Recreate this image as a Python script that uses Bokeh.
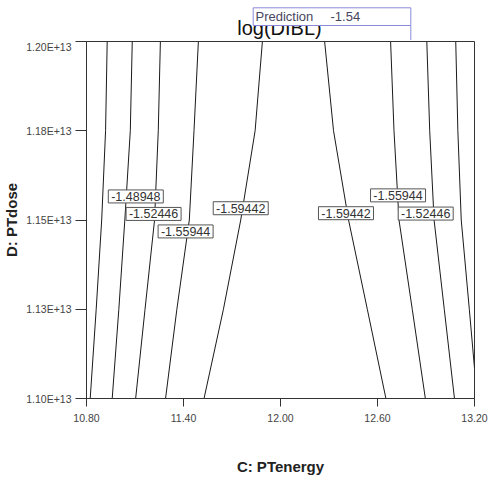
from bokeh.plotting import figure
from bokeh.layouts import column
from bokeh.models import Range1d, FixedTicker, ColumnDataSource
from bokeh.core.properties import value
from bokeh.embed import file_html
from bokeh.resources import INLINE

# ---------------- data ----------------
# D: PTdose levels (in units of 1E+13) at which each contour's C: PTenergy is read
dose_levels = [1.200, 1.175, 1.150, 1.125, 1.100]

# contour levels of log(DIBL)
contour_levels = [-1.45450, -1.48948, -1.52446, -1.55944, -1.59442,
                  -1.59442, -1.55944, -1.52446, -1.48948]

# PTenergy positions of each contour at the dose levels above
energy_a = [10.928, 10.918, 10.894, 10.860, 10.823]
energy_b = [11.083, 11.071, 11.037, 11.000, 10.959]
energy_c = [11.257, 11.244, 11.221, 11.162, 11.104]
energy_d = [11.492, 11.465, 11.436, 11.359, 11.289]
energy_e = [11.888, 11.843, 11.754, 11.647, 11.527]
energy_f = [12.273, 12.328, 12.421, 12.537, 12.652]
energy_g = [12.681, 12.702, 12.733, 12.815, 12.896]
energy_h = [12.905, 12.923, 12.950, 13.013, 13.076]
energy_i = [13.084, 13.097, 13.118, 13.168, 13.200]
dose_i = [1.200, 1.175, 1.150, 1.125, 1.1085]   # last contour leaves through the right edge

contour_energies = [energy_a, energy_b, energy_c, energy_d, energy_e,
                    energy_f, energy_g, energy_h, energy_i]
contour_doses = [dose_levels] * 8 + [dose_i]

# contour labels
label_text = ["-1.48948", "-1.52446", "-1.55944", "-1.59442",
              "-1.59442", "-1.55944", "-1.52446"]
label_energy = [11.105, 11.215, 11.413, 11.754, 12.405, 12.727, 12.898]
label_dose = [1.1566, 1.1517, 1.1468, 1.1533, 1.1519, 1.1569, 1.1518]

# axes
x_ticks = [10.8, 11.4, 12.0, 12.6, 13.2]
x_tick_labels = ["10.80", "11.40", "12.00", "12.60", "13.20"]
y_ticks = [1.100, 1.125, 1.150, 1.175, 1.200]
y_tick_labels = ["1.10E+13", "1.13E+13", "1.15E+13", "1.18E+13", "1.20E+13"]

title_text = "log(DIBL)"
prediction_name = "Prediction"
prediction_value = "-1.54"

FONT = "Liberation Sans"
LEFT, RIGHT, FW, FH = 81, 14, 388, 357

# ---------------- header (title + prediction box), coordinates in page pixels ----------------
head = figure(frame_width=FW, frame_height=40, output_backend="svg", toolbar_location=None,
              x_range=Range1d(89, 477), y_range=Range1d(41, 1),
              x_axis_location=None, y_axis_location=None,
              min_border_left=LEFT, min_border_right=RIGHT,
              min_border_top=0, min_border_bottom=0, outline_line_color=None)
head.grid.visible = False
head.text(x=[282], y=[28], text=[title_text], text_align="center",
          text_baseline="middle", text_font=value(FONT),
          text_font_size=value("20px"), text_color="#111111")
head.quad(left=[255.7], right=[413.3], top=[8.3], bottom=[26],
          fill_color="white", line_color="#8a8ada", line_width=1)
head.segment(x0=[413.3], y0=[26], x1=[413.3], y1=[41], line_color="#8a8ada", line_width=1)
head.text(x=[258], y=[17.2], text=[prediction_name], text_align="left",
          text_baseline="middle", text_font=value(FONT),
          text_font_size=value("13px"), text_color="#46465e")
head.text(x=[333], y=[17.2], text=[prediction_value], text_align="left",
          text_baseline="middle", text_font=value(FONT),
          text_font_size=value("13px"), text_color="#46465e")

# ---------------- main contour plot ----------------
p = figure(frame_width=FW, frame_height=FH, output_backend="svg", toolbar_location=None,
           x_range=Range1d(10.8, 13.2), y_range=Range1d(1.1, 1.2),
           min_border_left=LEFT, min_border_right=RIGHT, min_border_top=1,
           min_border_bottom=80, background_fill_color="white",
           border_fill_color="white")
p.grid.visible = False
p.outline_line_color = "#333333"
p.outline_line_width = 1

for xs, ys in zip(contour_energies, contour_doses):
    p.line(xs, ys, line_color="#1a1a1a", line_width=1)

lab_src = ColumnDataSource(dict(x=label_energy, y=label_dose, text=label_text))
p.rect(x="x", y="y", width=55, height=13, width_units="screen", height_units="screen",
       source=lab_src, fill_color="white", line_color="#555555", line_width=1)
p.text(x="x", y="y", text="text", source=lab_src, text_align="center",
       text_baseline="middle", text_font=value(FONT), text_font_size=value("12.5px"),
       text_color="#333333")

for ax, ticks, labels in ((p.xaxis[0], x_ticks, x_tick_labels),
                          (p.yaxis[0], y_ticks, y_tick_labels)):
    ax.ticker = FixedTicker(ticks=ticks)
    ax.major_label_overrides = {t: l for t, l in zip(ticks, labels)}
    ax.minor_tick_line_color = None
    ax.major_tick_in = 0
    ax.axis_line_color = "#333333"
    ax.major_tick_line_color = "#333333"
    ax.major_label_text_font = FONT
    ax.major_label_text_font_size = "10.5px"
    ax.major_label_text_color = "#444444"
    ax.axis_label_text_font = FONT
    ax.axis_label_text_font_size = "15px"
    ax.axis_label_text_font_style = "bold"
    ax.axis_label_text_color = "#222222"

p.xaxis[0].axis_label = "C: PTenergy"
p.xaxis[0].major_tick_out = 8
p.xaxis[0].major_label_standoff = 7
p.xaxis[0].axis_label_standoff = 33
p.yaxis[0].axis_label = "D: PTdose"
p.yaxis[0].major_tick_out = 11
p.yaxis[0].major_label_standoff = 4
p.yaxis[0].axis_label_standoff = 3

layout = column(head, p, spacing=0)
open("out.html", "w").write(file_html(layout, INLINE))
